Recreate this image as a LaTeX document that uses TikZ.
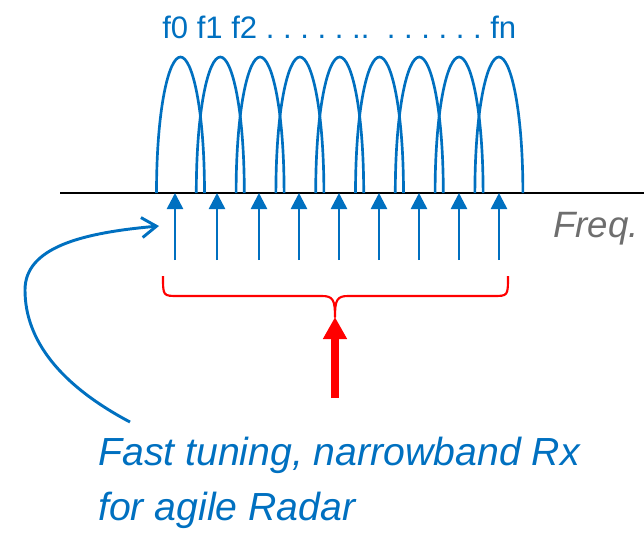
\documentclass[tikz,border=0pt]{standalone}
\usepackage{fontspec}
\setmainfont{Liberation Sans}
\usetikzlibrary{arrows.meta, positioning}
\definecolor{rxBlue}{HTML}{0070C0}
\definecolor{rxRed}{HTML}{FF0000}
\definecolor{rxGrey}{HTML}{6E6E6E}
\tikzset{
  % one unit is one pixel of the frame, y runs downwards
  every picture/.append style = {x=0.75pt, y=-0.75pt},
  axisline/.style  = {black, line width=1.5pt},
  lobe/.style      = {rxBlue, line width=2pt},
  tone/.style      = {-{Triangle[length=12pt, width=12pt]}, rxBlue, line width=2pt},
  bracepath/.style = {rxRed, line width=1.6pt, line join=round},
  selarrow/.style  = {-{Triangle[length=16.5pt, width=17pt]}, rxRed, line width=6pt},
  tunearrow/.style = {-{Straight Barb[length=11pt, width=15pt, line width=2.2pt]},
                      rxBlue, line width=2.2pt},
  chlbl/.style     = {rxBlue, inner sep=0pt, font=\fontsize{23.3}{28}\selectfont\frenchspacing},
  freqlbl/.style   = {rxGrey, inner sep=0pt, font=\fontsize{27.5}{33}\selectfont\itshape},
  notelbl/.style   = {rxBlue, inner sep=0pt, font=\fontsize{29.4}{36}\selectfont\itshape},
}

\begin{document}
\begin{tikzpicture}
  \useasboundingbox (0,0) rectangle (644,533);
  % frequency axis
  \coordinate (axl) at (60,193);
  \coordinate (axr) at (644,193);
  \draw[axisline] (axl) -- (axr);
  \node[freqlbl, anchor=base west] (freq) at (553,237) {Freq.};
  % channel lobes
  \foreach \i in {0,...,8} {
    \pgfmathsetmacro{\c}{180.5+39.8*\i}
    \draw[lobe] (\c-24,193) .. controls (\c-24,110) and (\c-12,57) .. (\c,57)
                .. controls (\c+12,57) and (\c+24,110) .. (\c+24,193);
  }
  \node[chlbl, anchor=base west] (chans) at (162,38)
    {f0 f1 f2 . . . . . ..\ \ . . . . . . fn};
  % tuned tones
  \foreach \x [count=\k] in {175,217,259,299,339,379,419,459,499} {
    \coordinate (tb\k) at (\x,260);
    \coordinate (tt\k) at (\x,193);
    \draw[tone] (tb\k) -- (tt\k);
  }
  % brace over the band
  \coordinate (cusp) at (335,317);
  \draw[bracepath] (163,276) .. controls (163,296) and (163,296) .. (178,296)
    -- (322,296) .. controls (333,296) and (335,300) .. (cusp)
    .. controls (335,300) and (337,296) .. (348,296)
    -- (493,296) .. controls (508,296) and (508,296) .. (508,276);
  \coordinate (selfoot) at (335,398);
  \draw[selarrow] (selfoot) -- (cusp);
  % note and its pointer
  \node[notelbl, anchor=base west] (notea) at (98,465) {Fast tuning, narrowband Rx};
  \node[notelbl, anchor=base west] (noteb) at (98,520) {for agile Radar};
  \coordinate (tunefoot) at (130,422);
  \coordinate (tunetip) at (159,226);
  \draw[tunearrow] (tunefoot) .. controls (60,385) and (25,340) .. (25,290)
    .. controls (25,248) and (80,233) .. (tunetip);
\end{tikzpicture}
\end{document}
